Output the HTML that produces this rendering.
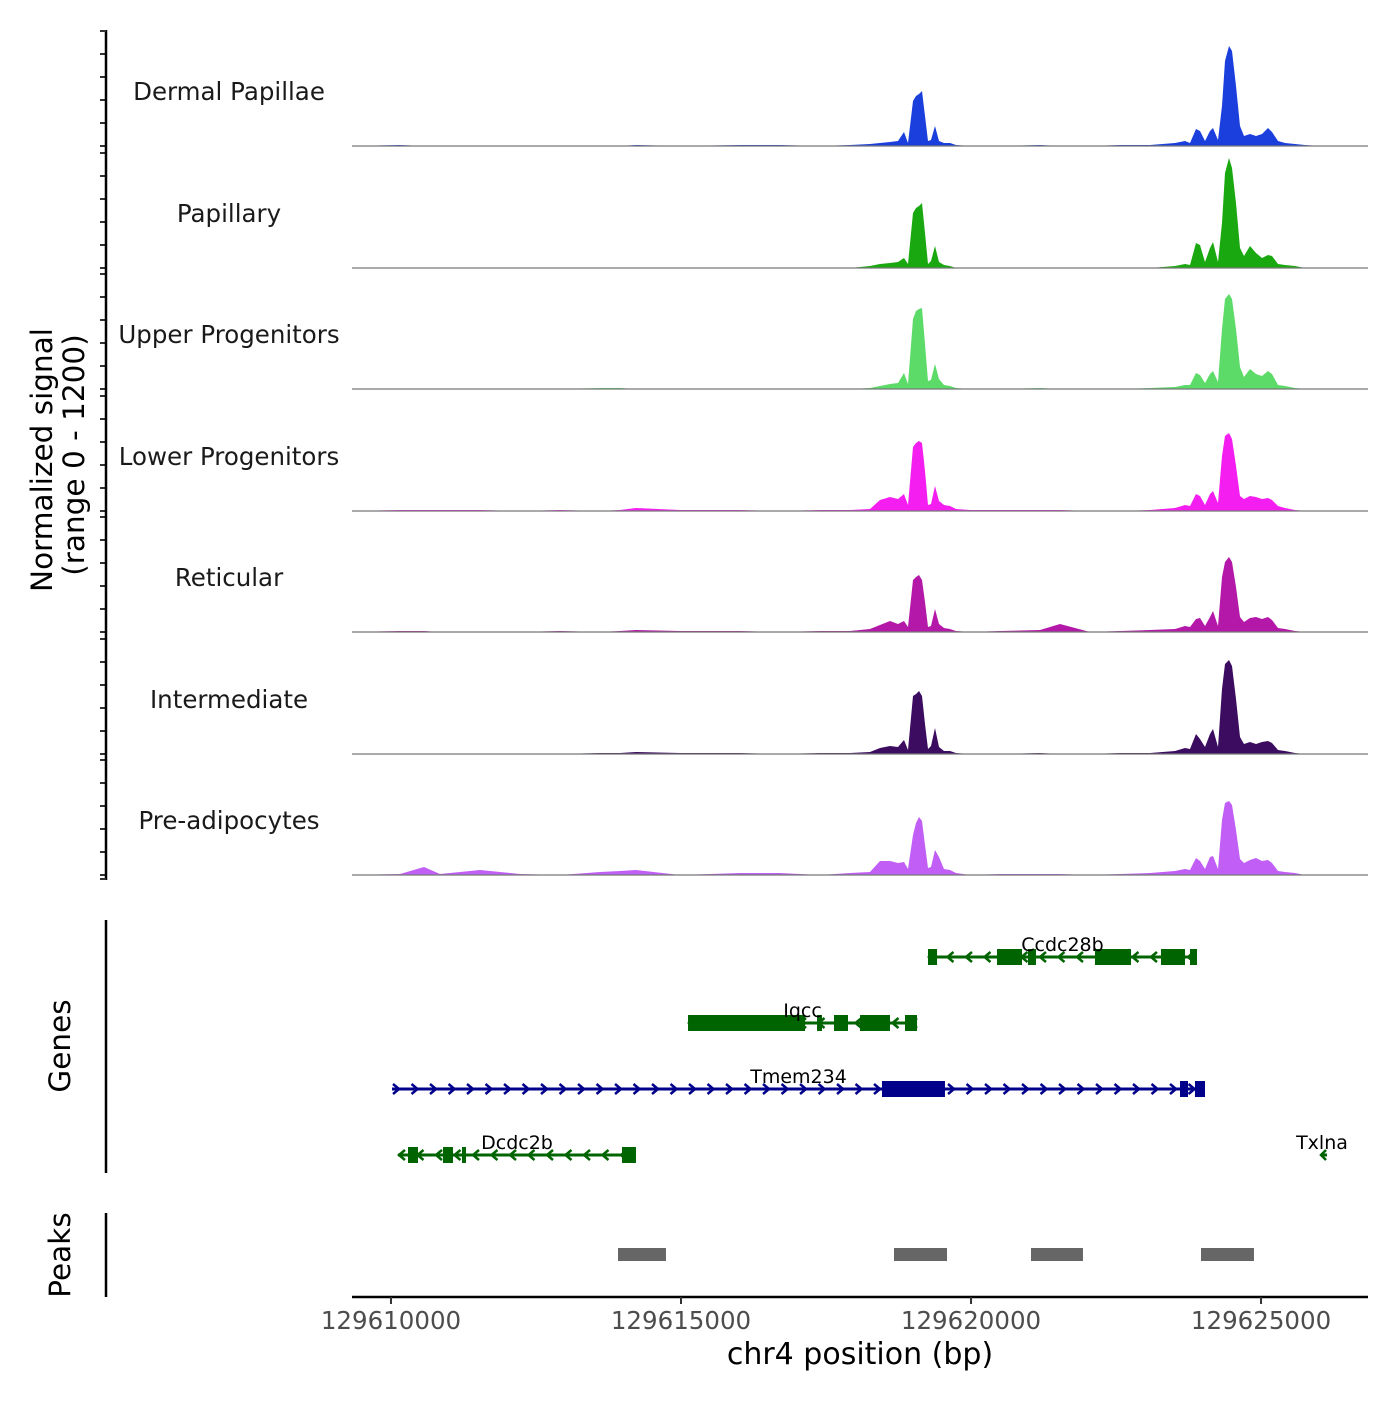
<!DOCTYPE html>
<html><head><meta charset="utf-8">
<style>
html,body{margin:0;padding:0;background:#fff;}
svg text{font-family:"DejaVu Sans","Liberation Sans",sans-serif;}
</style></head>
<body>
<svg id="chart" width="1400" height="1400" viewBox="0 0 1400 1400" xmlns="http://www.w3.org/2000/svg">
<rect width="1400" height="1400" fill="#fff"/>
<g id="tracks"></g>
<g id="axes"></g>
<g id="genes"></g>
<g id="peaks"></g>
</svg>
<script>
const ticks = [129610000, 129615000, 129620000, 129625000];
const trackNames = ["Dermal Papillae","Papillary","Upper Progenitors","Lower Progenitors","Reticular","Intermediate","Pre-adipocytes"];
const trackColors = ["#1a3fdc","#19a80f","#5cdb68","#f41ef0","#b418a8","#3b0c5f","#c05ef6"];
const positions = [129609328,129610156,129610569,129610845,129611535,129612224,129612914,129613604,129613948,129614224,129614983,129616017,129616707,129617396,129617914,129618258,129618431,129618603,129618741,129618844,129618913,129619000,129619051,129619103,129619155,129619207,129619258,129619310,129619379,129619448,129619534,129619638,129619741,129619982,129620500,129621189,129621534,129622051,129622568,129623086,129623517,129623689,129623775,129623879,129623948,129624034,129624120,129624172,129624258,129624327,129624379,129624447,129624499,129624568,129624637,129624706,129624810,129624913,129625016,129625120,129625189,129625292,129625413,129625585,129625758,129626016,129626844];
const dermal = [0,10,0,0,0,0,0,0,0,10,0,10,10,0,10,20,30,40,50,140,30,450,500,520,550,300,50,60,200,50,30,30,10,0,0,10,0,0,10,10,30,50,30,170,150,50,150,180,60,400,850,1000,950,600,200,100,120,100,120,180,140,50,30,20,10,0,0];
const papillary = [0,0,0,0,0,0,0,0,0,0,0,0,0,0,0,20,40,50,60,100,40,550,600,620,650,350,40,70,220,60,30,20,0,0,0,0,0,0,0,0,20,40,30,250,230,60,200,260,60,450,950,1100,1000,650,200,120,220,150,100,130,120,40,30,20,0,0,0];
const upper = [0,0,0,0,0,0,0,10,10,0,0,0,0,0,0,10,30,50,60,160,50,700,780,800,810,450,80,90,250,100,40,30,10,0,0,10,0,0,0,10,20,40,40,160,140,60,150,180,70,600,900,950,900,600,220,120,200,150,130,180,150,40,30,10,0,0,0];
const lower = [0,10,10,10,10,0,10,0,10,30,10,10,0,10,10,20,110,140,120,170,60,640,680,700,680,400,60,70,250,100,60,50,20,10,10,10,10,0,0,10,30,60,50,170,150,60,170,200,80,550,750,780,720,450,150,120,150,140,120,130,110,50,30,10,0,0,0];
const reticular = [0,10,10,0,0,0,10,0,10,20,10,10,0,10,10,30,70,110,80,110,50,520,550,570,520,300,50,60,230,80,40,30,10,0,10,20,80,0,10,20,30,60,50,130,140,60,150,210,60,550,700,750,700,450,150,100,140,150,130,150,120,40,30,10,0,0,0];
const intermediate = [0,0,0,0,0,0,0,10,10,20,10,10,0,10,10,20,60,80,70,140,40,580,600,630,580,300,50,80,260,70,30,30,10,0,0,10,0,0,10,10,30,60,50,200,150,70,200,250,70,650,900,940,880,550,170,100,120,100,120,130,110,40,30,10,0,0,0];
const preadipo = [0,10,80,10,50,10,0,30,40,50,0,20,20,0,20,30,140,140,120,130,60,400,520,580,540,300,70,80,250,180,60,50,20,0,10,10,10,0,10,20,40,60,50,170,140,60,180,190,60,550,720,740,700,450,160,120,150,170,140,150,120,40,30,20,0,0,0];
const seriesValues = [dermal,papillary,upper,lower,reticular,intermediate,preadipo];
const geneNames = ["Ccdc28b","Iqcc","Tmem234","Dcdc2b","Txlna"];
const geneStrand = [-1,-1,1,-1,-1];
const geneRow = [0,1,2,3,3];
const geneStart = [129619258,129615121,129610018,129610121,129626051];
const geneEnd = [129623896,129619069,129624034,129614224,129626137];
const geneColors = ["#006400","#006400","#00008b","#006400","#006400"];
const geneExons = [
 [[129619258,129619414],[129620448,129620879],[129620982,129621120],[129622137,129622758],[129623275,129623689],[129623775,129623896]],
 [[129615121,129617138],[129617345,129617431],[129617638,129617879],[129618086,129618603],[129618862,129619069]],
 [[129618465,129619551],[129623603,129623741],[129623861,129624034]],
 [[129610293,129610466],[129610897,129611069],[129611224,129611293],[129613983,129614224]],
 []
];
const peakStart = [129613914,129618672,129621034,129623965];
const peakEnd = [129614741,129619586,129621930,129624878];

const NS = "http://www.w3.org/2000/svg";
function mk(tag, attrs, parent){const e=document.createElementNS(NS,tag);for(const k in attrs)e.setAttribute(k,attrs[k]);parent.appendChild(e);return e;}
const X0=352, X1=1368, BP0=129609328, BP1=129626844;
function xs(bp){return X0+(bp-BP0)/(BP1-BP0)*(X1-X0);}
const baselines=[146,268,389,511,632,754,875];
const yUnit = 0.1;
const tracksG=document.getElementById('tracks');
const axesG=document.getElementById('axes');

seriesValues.forEach((vals,i)=>{
  const b=baselines[i];
  let d=`M${xs(positions[0])},${b}`;
  vals.forEach((v,j)=>{d+=` L${xs(positions[j]).toFixed(1)},${(b-v*yUnit).toFixed(1)}`;});
  d+=` L${xs(positions[positions.length-1])},${b} Z`;
  const p=mk('path',{d:d,fill:trackColors[i],stroke:'none'},tracksG);
  
  
  const bl=mk('line',{x1:X0,x2:X1,y1:b,y2:b,stroke:'#777','stroke-width':1.2},tracksG);
  
  
  const t=mk('text',{x:229,y:b-46,'text-anchor':'middle','font-size':24.5,fill:'#1a1a1a'},tracksG);
  t.textContent=trackNames[i];
  
  
  for(let k=0;k<=5;k++){
    const y=b-k*23;
    const tk=mk('line',{x1:100,x2:106,y1:y,y2:y,stroke:'#333','stroke-width':2},axesG);
    
    
  }
});
mk('line',{x1:106,x2:106,y1:30,y2:880,stroke:'#000','stroke-width':2.5},axesG);
mk('line',{x1:100,x2:106,y1:31,y2:31,stroke:'#333','stroke-width':2},axesG);
mk('line',{x1:100,x2:106,y1:879,y2:879,stroke:'#333','stroke-width':2},axesG);
let yt=mk('text',{x:0,y:0,'font-size':29.5,'text-anchor':'middle',transform:'translate(52,460) rotate(-90)',fill:'#000'},axesG);
yt.textContent='Normalized signal';


yt=mk('text',{x:0,y:0,'font-size':29.5,'text-anchor':'middle',transform:'translate(84,455) rotate(-90)',fill:'#000'},axesG);
yt.textContent='(range 0 - 1200)';



// Genes
const genesG=document.getElementById('genes');
mk('line',{x1:106,x2:106,y1:920,y2:1173,stroke:'#000','stroke-width':2.5},genesG);
let gt=mk('text',{x:0,y:0,'font-size':29.5,'text-anchor':'middle',transform:'translate(70,1046) rotate(-90)'},genesG);
gt.textContent='Genes';


const rowY=[957,1023,1089,1155];
geneNames.forEach((n,i)=>{
  const y=rowY[geneRow[i]], c=geneColors[i];
  const g=mk('g',{},genesG);
  
  
  const a=xs(geneStart[i]), e=xs(geneEnd[i]);
  mk('line',{x1:a,x2:e,y1:y,y2:y,stroke:c,'stroke-width':3},g);
  const s=geneStrand[i];
  if(e-a<15){
    mk('polyline',{points:`${a+4},${y-5} ${a-1},${y} ${a+4},${y+5}`,fill:'none',stroke:c,'stroke-width':2.5},g);
  } else {
    for(let x=a+4;x<=e-2;x+=18.5){
      mk('polyline',{points:`${x-3*s},${y-5} ${x+3*s},${y} ${x-3*s},${y+5}`,fill:'none',stroke:c,'stroke-width':2.5},g);
    }
  }
  geneExons[i].forEach(ex=>{
    mk('rect',{x:xs(ex[0]),y:y-8,width:Math.max(3,xs(ex[1])-xs(ex[0])),height:16,fill:c},g);
  });
  const lx = (i===4)? xs(geneStart[i]) : (a+e)/2;
  const t=mk('text',{x:lx,y:y-6,'text-anchor':'middle','font-size':19,fill:'#000'},g);
  t.textContent=n;
});

// Peaks
const peaksG=document.getElementById('peaks');
mk('line',{x1:106,x2:106,y1:1213,y2:1297,stroke:'#000','stroke-width':2.5},peaksG);
let pt=mk('text',{x:0,y:0,'font-size':29.5,'text-anchor':'middle',transform:'translate(70,1255) rotate(-90)'},peaksG);
pt.textContent='Peaks';


peakStart.forEach((s,i)=>{
  const r=mk('rect',{x:xs(s),y:1248,width:xs(peakEnd[i])-xs(s),height:13,fill:'#666'},peaksG);
  
  
});
// x axis
mk('line',{x1:X0,x2:X1,y1:1297,y2:1297,stroke:'#000','stroke-width':2.5},axesG);
ticks.forEach(t=>{
  const x=xs(t);
  const l=mk('line',{x1:x,x2:x,y1:1297,y2:1304,stroke:'#333','stroke-width':2},axesG);
  
  
  const tx=mk('text',{x:x,y:1329,'text-anchor':'middle','font-size':24.5,fill:'#4d4d4d'},axesG);
  tx.textContent=t;
  
  
});
const xt=mk('text',{x:860,y:1364,'text-anchor':'middle','font-size':30,fill:'#000'},axesG);
xt.textContent='chr4 position (bp)';


</script>
</body></html>
